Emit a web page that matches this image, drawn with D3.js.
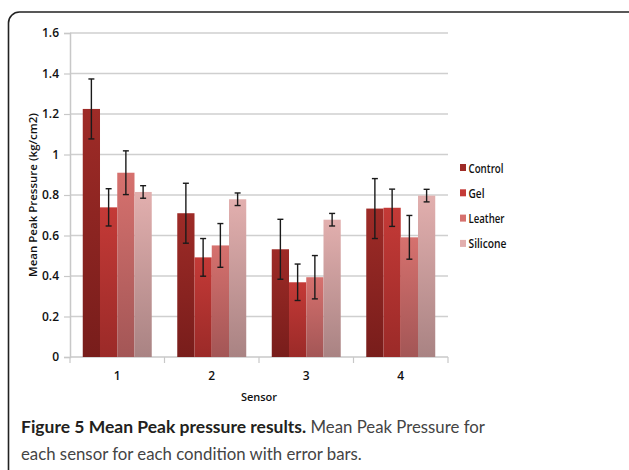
<!DOCTYPE html>
<html>
<head>
<meta charset="utf-8">
<script src="https://cdn.jsdelivr.net/npm/d3@7"></script>
<style>
  body { margin: 0; background: #fff; }
  svg { display: block; font-family: "Open Sans", sans-serif; }
</style>
</head>
<body>
<svg id="chart" width="629" height="470"></svg>
<script>
// chart data
const sensors = ['1', '2', '3', '4'];
const conditions = ['Control', 'Gel', 'Leather', 'Silicone'];
const control = [1.225, 0.710, 0.532, 0.733];
const gel = [0.739, 0.492, 0.369, 0.737];
const leather = [0.910, 0.551, 0.394, 0.591];
const silicone = [0.815, 0.779, 0.678, 0.797];
const controlErr = [0.148, 0.148, 0.148, 0.148];
const gelErr = [0.092, 0.093, 0.090, 0.092];
const leatherErr = [0.108, 0.108, 0.107, 0.108];
const siliconeErr = [0.031, 0.031, 0.031, 0.031];
const yTicks = [0, 0.2, 0.4, 0.6, 0.8, 1, 1.2, 1.4, 1.6];

const seriesValues = [control, gel, leather, silicone];
const seriesErr = [controlErr, gelErr, leatherErr, siliconeErr];
// top / bottom colours of each bar gradient
const colorsTop = ['#9e2b27', '#c43a37', '#d6716e', '#e2afae'];
const colorsBottom = ['#781d1b', '#9b2a28', '#a35656', '#a98383'];

const margin = {top: 33, right: 181, bottom: 113, left: 70};
const width = 629 - margin.left - margin.right;
const height = 470 - margin.top - margin.bottom;

const svg = d3.select('#chart');

// frame round the figure
svg.append('rect')
    .attr('x', 8.5).attr('y', 12)
    .attr('width', 640).attr('height', 480)
    .attr('rx', 11)
    .attr('fill', 'none')
    .attr('stroke', '#222')
    .attr('stroke-width', 1.6);

const defs = svg.append('defs');
conditions.forEach((c, i) => {
  const g = defs.append('linearGradient')
      .attr('id', 'grad' + i)
      .attr('x1', 0).attr('y1', 0).attr('x2', 0).attr('y2', 1);
  g.append('stop').attr('offset', '0%').attr('stop-color', colorsTop[i]);
  g.append('stop').attr('offset', '100%').attr('stop-color', colorsBottom[i]);
});

const g = svg.append('g')
    .attr('transform', 'translate(' + margin.left + ',' + margin.top + ')');

const x0 = d3.scaleBand()
    .domain(sensors)
    .range([0, width])
    .paddingInner(0.27)
    .paddingOuter(0.135);

const x1 = d3.scaleBand()
    .domain(conditions)
    .range([0, x0.bandwidth()]);

const y = d3.scaleLinear()
    .domain([0, 1.6])
    .range([height, 0]);

// gridlines
g.append('g')
    .selectAll('line')
    .data(yTicks.slice(1))
    .join('line')
    .attr('x1', 0).attr('x2', width)
    .attr('y1', d => y(d)).attr('y2', d => y(d))
    .attr('stroke', '#cfcfcf')
    .attr('stroke-width', 1.5);

// y axis
const yAxis = g.append('g')
    .call(d3.axisLeft(y).tickValues(yTicks).tickSize(6).tickPadding(5).tickFormat(d3.format('~g')));
yAxis.select('.domain').attr('stroke', '#c8c8c8').attr('stroke-width', 1.5);
yAxis.selectAll('.tick line').attr('stroke', '#c8c8c8').attr('stroke-width', 1.2);
yAxis.selectAll('text')
    .attr('fill', '#111')
    .attr('font-size', '12px')
    .attr('font-weight', 600)
    .attr('font-family', '"Open Sans", sans-serif');

// x axis with ticks between categories
const xAxis = g.append('g')
    .attr('transform', 'translate(0,' + height + ')');
xAxis.append('line')
    .attr('x1', 0).attr('x2', width)
    .attr('stroke', '#c8c8c8').attr('stroke-width', 1.5);
xAxis.selectAll('.sep')
    .data(sensors.concat(['end']))
    .join('line')
    .attr('class', 'sep')
    .attr('x1', (d, i) => i * x0.step()).attr('x2', (d, i) => i * x0.step())
    .attr('y1', 0).attr('y2', 6)
    .attr('stroke', '#c8c8c8').attr('stroke-width', 1.2);
xAxis.selectAll('.lab')
    .data(sensors)
    .join('text')
    .attr('class', 'lab')
    .attr('x', d => x0(d) + x0.bandwidth() / 2)
    .attr('y', 23)
    .attr('text-anchor', 'middle')
    .attr('fill', '#111')
    .attr('font-size', '12px')
    .attr('font-weight', 600)
    .text(d => d);

// bars
const groups = g.selectAll('.group')
    .data(sensors)
    .join('g')
    .attr('class', 'group')
    .attr('transform', d => 'translate(' + x0(d) + ',0)');

groups.selectAll('rect')
    .data((d, si) => conditions.map((c, ci) => ({c, ci, v: seriesValues[ci][si], e: seriesErr[ci][si]})))
    .join('rect')
    .attr('x', d => x1(d.c))
    .attr('width', x1.bandwidth())
    .attr('y', d => y(d.v))
    .attr('height', d => height - y(d.v))
    .attr('fill', d => 'url(#grad' + d.ci + ')');

// error bars
const err = groups.selectAll('.err')
    .data((d, si) => conditions.map((c, ci) => ({c, v: seriesValues[ci][si], e: seriesErr[ci][si]})))
    .join('g')
    .attr('class', 'err')
    .attr('stroke', '#1a1a1a')
    .attr('stroke-width', 1.4);
err.append('line')
    .attr('x1', d => x1(d.c) + x1.bandwidth() / 2)
    .attr('x2', d => x1(d.c) + x1.bandwidth() / 2)
    .attr('y1', d => y(d.v + d.e))
    .attr('y2', d => y(d.v - d.e));
err.append('line')
    .attr('x1', d => x1(d.c) + x1.bandwidth() / 2 - 3)
    .attr('x2', d => x1(d.c) + x1.bandwidth() / 2 + 3)
    .attr('y1', d => y(d.v + d.e))
    .attr('y2', d => y(d.v + d.e));
err.append('line')
    .attr('x1', d => x1(d.c) + x1.bandwidth() / 2 - 3)
    .attr('x2', d => x1(d.c) + x1.bandwidth() / 2 + 3)
    .attr('y1', d => y(d.v - d.e))
    .attr('y2', d => y(d.v - d.e));

// axis titles
svg.append('text')
    .attr('transform', 'translate(37,' + (margin.top + height / 2) + ') rotate(-90)')
    .attr('text-anchor', 'middle')
    .attr('fill', '#111')
    .attr('font-size', '11.5px')
    .attr('font-weight', 600)
    .text('Mean Peak Pressure (kg/cm2)');

svg.append('text')
    .attr('x', margin.left + width / 2)
    .attr('y', 401)
    .attr('text-anchor', 'middle')
    .attr('fill', '#111')
    .attr('font-size', '11px')
    .attr('font-weight', 600)
    .text('Sensor');

// legend
const legend = svg.append('g')
    .attr('transform', 'translate(460,169)');
const items = legend.selectAll('g')
    .data(conditions)
    .join('g')
    .attr('transform', (d, i) => 'translate(0,' + (i * 25.3) + ')');
items.append('rect')
    .attr('x', 0).attr('y', -5)
    .attr('width', 6).attr('height', 7)
    .attr('fill', (d, i) => colorsTop[i]);
items.append('text')
    .attr('x', 8.5).attr('y', 3.5)
    .attr('fill', '#111')
    .attr('font-size', '12px')
    .attr('font-weight', 600)
    .attr('textLength', d => ({Control: 35, Gel: 16, Leather: 36, Silicone: 38})[d])
    .attr('lengthAdjust', 'spacingAndGlyphs')
    .text(d => d);

// caption
const cap = svg.append('text')
    .attr('x', 21).attr('y', 433)
    .attr('font-size', '17.5px')
    .attr('font-family', 'Lato, sans-serif')
    .attr('fill', '#444');
cap.append('tspan')
    .attr('font-weight', 700)
    .attr('fill', '#231f20')
    .text('Figure 5 Mean Peak pressure results.');
cap.append('tspan').attr('font-size', '16.8px').text(' Mean Peak Pressure for');
svg.append('text')
    .attr('x', 21).attr('y', 460)
    .attr('font-size', '16.8px')
    .attr('font-family', 'Lato, sans-serif')
    .attr('fill', '#444')
    .text('each sensor for each condition with error bars.');
</script>
</body>
</html>
